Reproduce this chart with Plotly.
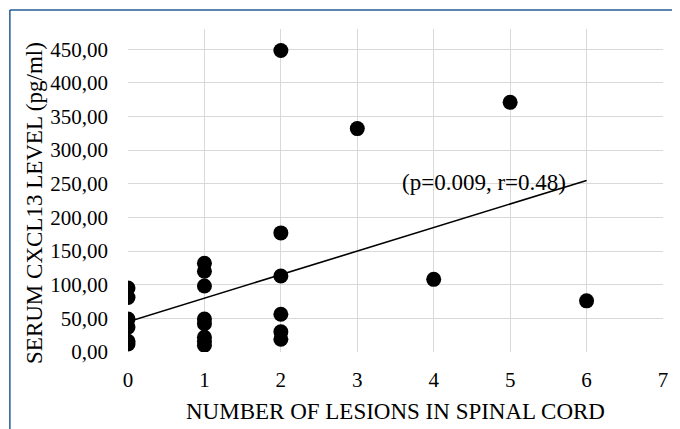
import plotly.graph_objects as go

# Data
lesions = [0, 0, 0, 0, 0, 0,
           1, 1, 1, 1, 1, 1, 1, 1,
           2, 2, 2, 2, 2, 2,
           3, 4, 5, 6]
cxcl13 = [95, 81, 49, 37, 16, 12,
          132, 120, 98, 49, 42, 22, 16, 10,
          448, 177, 113, 56, 30, 19,
          332, 108, 371, 76]
trend_x = [0, 6]
trend_intercept = 45.0
trend_slope = 35.0
trend_y = [trend_intercept + trend_slope * v for v in trend_x]
x_ticks = [0, 1, 2, 3, 4, 5, 6, 7]
y_ticks = [0, 50, 100, 150, 200, 250, 300, 350, 400, 450]
stat_text = "(p=0.009, r=0.48)"

FONT = "Liberation Serif"
GRID = "#d9d9d9"
FRAME = "#235c93"

fig = go.Figure()
fig.add_trace(go.Scatter(x=trend_x, y=trend_y, mode="lines",
                         line=dict(color="black", width=1.6),
                         hoverinfo="skip"))
fig.add_trace(go.Scatter(x=lesions, y=cxcl13, mode="markers",
                         marker=dict(color="black", size=15)))

fig.update_layout(
    width=672, height=421,
    margin=dict(l=120, r=13, t=21, b=77),
    paper_bgcolor="white", plot_bgcolor="white",
    showlegend=False,
    separators=",.",
    font=dict(family=FONT, size=21, color="black"),
    xaxis=dict(range=[0, 7], tickvals=x_ticks, showgrid=True,
               gridcolor=GRID, gridwidth=1.3, zeroline=False,
               showline=False, ticks="", ticklabelstandoff=13,
               tickfont=dict(family=FONT, size=21)),
    yaxis=dict(range=[0, 480], tickvals=y_ticks, tickformat=".2f",
               showgrid=True, gridcolor=GRID, gridwidth=1.3,
               zeroline=False, showline=False, ticks="",
               ticklabelstandoff=19,
               tickfont=dict(family=FONT, size=21)),
    annotations=[
        dict(text=stat_text, x=4.66, y=252, xref="x", yref="y",
             showarrow=False, font=dict(family=FONT, size=23)),
        dict(text="NUMBER OF LESIONS IN SPINAL CORD", x=0.5, y=-0.183,
             xref="paper", yref="paper", showarrow=False,
             xanchor="center", yanchor="middle",
             font=dict(family=FONT, size=23)),
        dict(text="SERUM CXCL13 LEVEL (pg/ml)", x=-0.176, y=0.461,
             xref="paper", yref="paper", showarrow=False, textangle=-90,
             xanchor="center", yanchor="middle",
             font=dict(family=FONT, size=23)),
    ],
    shapes=[
        dict(type="line", xref="paper", yref="paper",
             x0=-0.2208, x1=1.04, y0=1.0588, y1=1.0588,
             line=dict(color=FRAME, width=1.5)),
        dict(type="line", xref="paper", yref="paper",
             x0=-0.2208, x1=-0.2208, y0=1.0588, y1=-0.26,
             line=dict(color=FRAME, width=1.5)),
    ],
)

fig.write_html("out.html")
